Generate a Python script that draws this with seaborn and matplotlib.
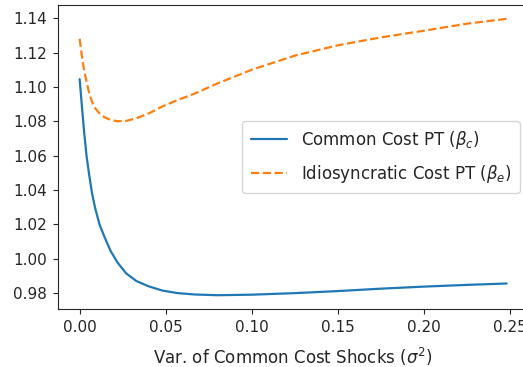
import numpy as np
import pandas as pd
import matplotlib
matplotlib.use("Agg")
import matplotlib.pyplot as plt
import seaborn as sns

# Variance of the common cost shock (x-axis grid)
sigma2 = [0.000, 0.0012, 0.0025, 0.004, 0.0055, 0.0072, 0.009, 0.0115,
          0.0145, 0.018, 0.022, 0.027, 0.033, 0.040, 0.048, 0.057, 0.067,
          0.080, 0.100, 0.125, 0.150, 0.175, 0.200, 0.225, 0.248]

# Pass-through of common cost shocks (beta_c)
beta_c = [1.1045, 1.0900, 1.0748, 1.0598, 1.0490, 1.0380, 1.0295, 1.0200,
          1.0125, 1.0045, 0.9978, 0.9915, 0.9870, 0.9840, 0.9815, 0.9800,
          0.9792, 0.9788, 0.9791, 0.9800, 0.9812, 0.9826, 0.9838, 0.9848,
          0.9856]

# Pass-through of idiosyncratic cost shocks (beta_e)
beta_e = [1.1280, 1.1185, 1.1100, 1.1030, 1.0965, 1.0912, 1.0876, 1.0846,
          1.0823, 1.0808, 1.0800, 1.0802, 1.0818, 1.0845, 1.0886, 1.0924,
          1.0962, 1.1020, 1.1100, 1.1182, 1.1242, 1.1288, 1.1327, 1.1368,
          1.1396]

label_c = r"Common Cost PT ($\beta_c$)"
label_e = r"Idiosyncratic Cost PT ($\beta_e$)"

df = pd.DataFrame({"sigma2": sigma2, "beta_c": beta_c, "beta_e": beta_e})

sns.set_style("ticks")
plt.rcParams["font.family"] = ["DejaVu Sans"]
plt.rcParams["font.size"] = 11

fig = plt.figure(figsize=(5.23, 3.67), dpi=100)
ax = fig.add_axes([0.1115, 0.158, 0.898, 0.8283])

sns.lineplot(data=df, x="sigma2", y="beta_c", ax=ax, color="#1f77b4",
             linewidth=1.6, label=label_c)
sns.lineplot(data=df, x="sigma2", y="beta_e", ax=ax, color="#ff7f0e",
             linewidth=1.6, linestyle="--", label=label_e)

ax.set_xticks([0.00, 0.05, 0.10, 0.15, 0.20, 0.25])
ax.set_xticklabels(["0.00", "0.05", "0.10", "0.15", "0.20", "0.25"])
ax.set_yticks([0.98, 1.00, 1.02, 1.04, 1.06, 1.08, 1.10, 1.12, 1.14])
ax.set_yticklabels(["0.98", "1.00", "1.02", "1.04", "1.06", "1.08",
                    "1.10", "1.12", "1.14"])
ax.tick_params(labelsize=11, pad=4.5)
ax.set_xlabel(r"Var. of Common Cost Shocks ($\sigma^2$)", fontsize=12,
              labelpad=7.5)
ax.set_ylabel("")

ax.legend(loc="center right", fontsize=12, handlelength=2.2,
          labelspacing=0.7, borderpad=0.5)

fig.savefig("out.png", dpi=100)
